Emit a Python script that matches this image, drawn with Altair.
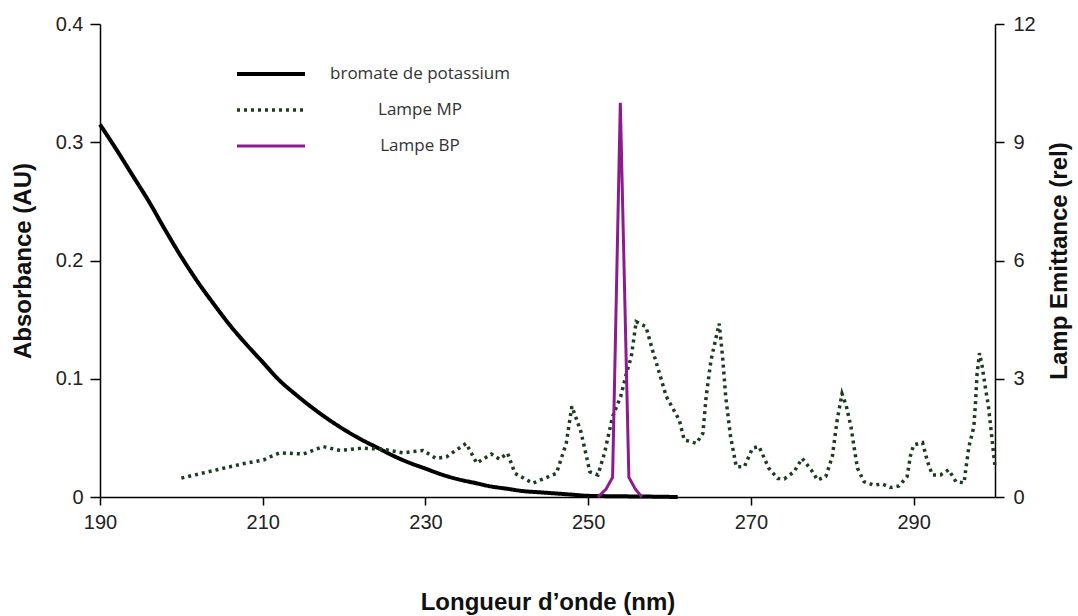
import altair as alt
import pandas as pd

# ---- data ----
series_names = ["bromate de potassium", "Lampe MP", "Lampe BP"]

bromate_nm = [190, 192, 194, 196, 198, 200, 202, 204, 206, 208, 210, 212, 214, 216,
              218, 220, 222, 224, 226, 228, 230, 232, 234, 236, 238, 240, 242, 244,
              246, 248, 250, 254, 258, 261]
bromate_abs = [0.315, 0.294, 0.272, 0.250, 0.226, 0.203, 0.182, 0.163, 0.145, 0.129,
               0.114, 0.099, 0.087, 0.076, 0.066, 0.057, 0.049, 0.042, 0.035, 0.029,
               0.024, 0.019, 0.015, 0.012, 0.009, 0.007, 0.005, 0.004, 0.003, 0.002,
               0.001, 0.0006, 0.0003, 0.0]

mp_nm = [200.0, 202.5, 205.2, 207.5, 210.1, 210.9, 212.1, 215.0, 217.4, 219.5, 222.3,
         224.8, 227.2, 229.7, 231.3, 232.6, 233.5, 235.0, 236.3, 238.1, 239.1, 240.1,
         241.0, 243.2, 246.1, 247.3, 248.0, 249.1, 249.8, 250.2, 251.2, 252.0, 253.0,
         254.0, 254.7, 255.3, 255.9, 257.1, 257.9, 258.7, 259.6, 261.2, 261.8, 263.3,
         264.1, 264.5, 265.1, 266.1, 266.5, 266.9, 267.5, 268.2, 269.2, 270.2, 271.0,
         272.2, 273.3, 274.1, 275.3, 276.3, 277.4, 278.2, 279.2, 280.0, 280.6, 281.2,
         281.7, 282.3, 282.7, 283.1, 283.9, 285.1, 286.1, 287.2, 288.2, 289.2, 289.6,
         290.0, 291.1, 291.7, 292.3, 293.3, 294.3, 295.2, 296.2, 296.4, 296.8, 297.4,
         297.6, 297.8, 298.1, 298.4, 298.8, 299.2, 299.6, 300.0]
mp_em = [0.48, 0.60, 0.73, 0.84, 0.94, 1.02, 1.12, 1.09, 1.28, 1.18, 1.24,
         1.21, 1.12, 1.18, 0.98, 1.02, 1.15, 1.36, 0.86, 1.09, 0.96, 1.11,
         0.60, 0.35, 0.60, 1.36, 2.30, 1.66, 1.02, 0.64, 0.56, 1.11, 2.04,
         2.55, 3.14, 3.56, 4.45, 4.32, 3.73, 3.18, 2.55, 1.95, 1.45, 1.36,
         1.62, 2.55, 3.48, 4.40, 3.60, 2.55, 1.53, 0.77, 0.77, 1.24, 1.28,
         0.73, 0.47, 0.46, 0.64, 0.98, 0.69, 0.43, 0.52, 1.02, 1.95, 2.62,
         2.33, 1.78, 1.24, 0.73, 0.39, 0.30, 0.33, 0.24, 0.28, 0.52, 1.04,
         1.32, 1.38, 0.90, 0.56, 0.56, 0.69, 0.39, 0.36, 0.69, 1.28, 1.78,
         2.38, 3.14, 3.65, 3.35, 2.80, 2.29, 1.53, 0.77]

bp_nm = [251.2, 252.2, 253.0, 253.95, 255.0, 255.8, 256.6]
bp_em = [0.0, 0.2, 0.5, 10.0, 0.5, 0.2, 0.0]

x_ticks = [190, 210, 230, 250, 270, 290]
abs_ticks = [0, 0.1, 0.2, 0.3, 0.4]
em_ticks = [0, 3, 6, 9, 12]

df_b = pd.DataFrame({"nm": bromate_nm, "val": bromate_abs, "series": series_names[0]})
df_l = pd.concat([
    pd.DataFrame({"nm": mp_nm, "val": mp_em, "series": series_names[1]}),
    pd.DataFrame({"nm": bp_nm, "val": bp_em, "series": series_names[2]}),
], ignore_index=True)

color_scale = alt.Scale(domain=series_names, range=["#000000", "#1b3d1f", "#8e1b8e"])
dash_scale = alt.Scale(domain=series_names, range=[[1, 0], [3, 4], [1, 0]])
width_scale = alt.Scale(domain=series_names, range=[4.0, 3.0, 2.5])

legend = alt.Legend(
    title=None, orient="none", legendX=135, legendY=40,
    symbolType="stroke", symbolSize=4624, clipHeight=20, rowPadding=16,
    labelOffset=113, labelAlign="center", labelFont="Open Sans",
    labelFontSize=17, labelColor="#333333", padding=0, labelLimit=400,
)

x_enc = alt.X(
    "nm:Q",
    scale=alt.Scale(domain=[190, 300], nice=False, zero=False),
    axis=alt.Axis(
        values=x_ticks, title="Longueur d’onde (nm)", grid=False,
        tickSize=8, labelPadding=7, titlePadding=58,
        titleFontSize=24, titleFontWeight="bold",
    ),
)

enc_common = dict(
    color=alt.Color("series:N", scale=color_scale, legend=legend),
    strokeDash=alt.StrokeDash("series:N", scale=dash_scale, legend=legend),
    strokeWidth=alt.StrokeWidth("series:N", scale=width_scale, legend=legend),
)

left = alt.Chart(df_b).mark_line(interpolate="monotone").encode(
    x=x_enc,
    y=alt.Y(
        "val:Q",
        scale=alt.Scale(domain=[0, 0.4], nice=False),
        axis=alt.Axis(
            values=abs_ticks, title="Absorbance (AU)", grid=False,
            labelExpr="datum.value == 0 ? '0' : format(datum.value, '.1f')",
            tickSize=10, labelPadding=7, titlePadding=20,
            titleFontSize=24, titleFontWeight="bold",
        ),
    ),
    **enc_common,
)

right = alt.Chart(df_l).mark_line().encode(
    x=x_enc,
    y=alt.Y(
        "val:Q",
        scale=alt.Scale(domain=[0, 12], nice=False),
        axis=alt.Axis(
            values=em_ticks, title="Lamp Emittance (rel)", orient="right", grid=False,
            format="d", tickSize=9, labelPadding=9, titlePadding=12,
            titleFontSize=24, titleFontWeight="bold", titleAngle=270,
            titleBaseline="top",
        ),
    ),
    **enc_common,
)

chart = alt.layer(left, right).resolve_scale(y="independent").properties(
    width=895, height=473,
    autosize=alt.AutoSizeParams(type="none"),
    padding={"left": 100, "top": 24, "right": 83, "bottom": 119},
    background="white",
).configure_view(stroke=None).configure_axis(
    domainColor="#000000", domainWidth=1.5, tickColor="#000000", tickWidth=1.5,
    labelFont="Liberation Sans", labelFontSize=20, labelColor="#222222",
    labelFlush=False,
    titleFont="Liberation Sans", titleColor="#111111",
)

chart.save("out.html", embed_options={"renderer": "svg", "actions": False})
